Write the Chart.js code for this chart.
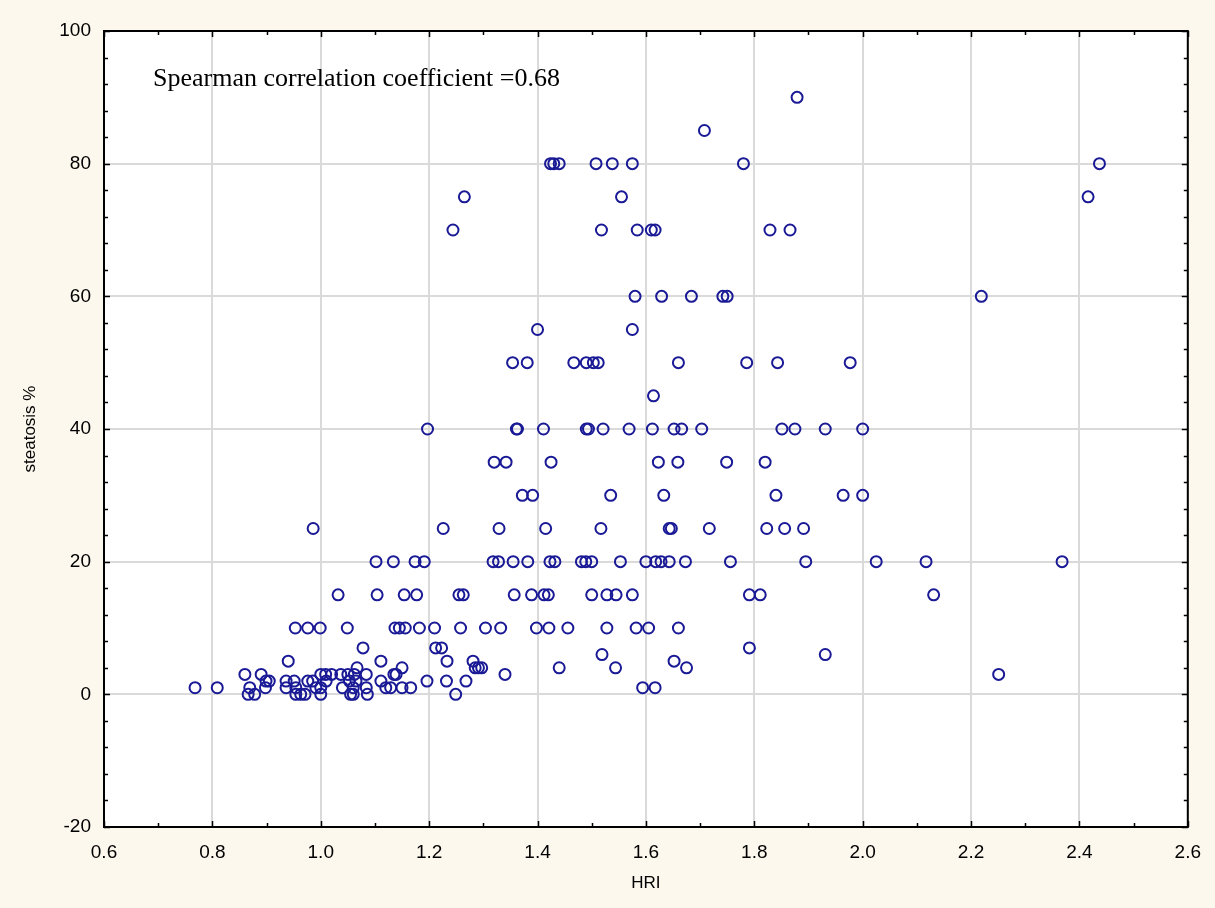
<!DOCTYPE html>
<html>
<head>
<meta charset="utf-8">
<title>HRI vs steatosis</title>
<script src="https://cdn.jsdelivr.net/npm/chart.js"></script>
<style>
  html, body { margin: 0; padding: 0; background: #fcf8ee; }
  #wrap { width: 1215px; height: 908px; position: relative; }
</style>
</head>
<body>
<div id="wrap"><canvas id="scatter"></canvas></div>
<script>
// steatosis % levels and the HRI values of the patients found at each level
const steatosisLevels = [0, 1, 2, 3, 4, 5, 6, 7, 10, 15, 20, 25, 30, 35, 40, 45, 50, 55, 60, 70, 75, 80, 85, 90];
const hriAtLevel = [
  [0.866, 0.878, 0.954, 0.963, 0.971, 1.0, 1.055, 1.06, 1.086, 1.249],
  [0.768, 0.809, 0.869, 0.898, 0.936, 0.954, 0.991, 1.0, 1.04, 1.06, 1.084, 1.12, 1.129, 1.15, 1.166, 1.594, 1.617],
  [0.899, 0.905, 0.936, 0.951, 0.976, 0.985, 1.01, 1.053, 1.065, 1.111, 1.196, 1.232, 1.268],
  [0.86, 0.89, 1.0, 1.009, 1.02, 1.037, 1.05, 1.062, 1.084, 1.135, 1.139, 1.34, 2.251],
  [1.067, 1.15, 1.285, 1.291, 1.297, 1.44, 1.544, 1.675],
  [0.94, 1.111, 1.233, 1.281, 1.652],
  [1.519, 1.931],
  [1.078, 1.212, 1.223, 1.791],
  [0.953, 0.976, 0.999, 1.049, 1.137, 1.145, 1.156, 1.182, 1.21, 1.258, 1.304, 1.332, 1.398, 1.421, 1.456, 1.528, 1.582, 1.605, 1.66],
  [1.032, 1.104, 1.154, 1.177, 1.255, 1.263, 1.357, 1.389, 1.412, 1.42, 1.5, 1.528, 1.545, 1.575, 1.791, 1.811, 2.131],
  [1.102, 1.134, 1.174, 1.191, 1.318, 1.328, 1.355, 1.382, 1.423, 1.432, 1.481, 1.489, 1.5, 1.553, 1.6, 1.618, 1.628, 1.643, 1.673, 1.756, 1.895, 2.025, 2.117, 2.368],
  [0.986, 1.226, 1.329, 1.415, 1.517, 1.643, 1.647, 1.717, 1.823, 1.856, 1.891],
  [1.372, 1.391, 1.535, 1.633, 1.84, 1.964, 2.0],
  [1.32, 1.342, 1.425, 1.623, 1.659, 1.749, 1.82],
  [1.197, 1.361, 1.363, 1.411, 1.49, 1.494, 1.521, 1.569, 1.612, 1.652, 1.666, 1.703, 1.851, 1.875, 1.931, 2.0],
  [1.614],
  [1.354, 1.381, 1.467, 1.49, 1.503, 1.512, 1.66, 1.786, 1.843, 1.977],
  [1.4, 1.575],
  [1.58, 1.629, 1.684, 1.742, 1.75, 2.219],
  [1.244, 1.518, 1.584, 1.61, 1.617, 1.829, 1.866],
  [1.265, 1.555, 2.416],
  [1.424, 1.43, 1.44, 1.508, 1.538, 1.575, 1.78, 2.437],
  [1.708],
  [1.879]
];

const xTicks = [0.6, 0.8, 1.0, 1.2, 1.4, 1.6, 1.8, 2.0, 2.2, 2.4, 2.6];
const yTicks = [-20, 0, 20, 40, 60, 80, 100];
const xMinorStep = 0.1;
const yMinorStep = 4;
const noteText = "Spearman correlation coefficient =0.68";

const points = steatosisLevels.flatMap((s, i) => hriAtLevel[i].map(h => ({ x: h, y: s })));

// cream page, white plot, black frame, inward ticks and the note
const frame = {
  id: "frame",
  beforeDraw(chart) {
    const { ctx, chartArea: a } = chart;
    ctx.save();
    ctx.fillStyle = "#fcf8ee";
    ctx.fillRect(0, 0, chart.width, chart.height);
    ctx.fillStyle = "#ffffff";
    ctx.fillRect(a.left, a.top, a.right - a.left, a.bottom - a.top);
    ctx.restore();
  },
  afterDatasetsDraw(chart) {
    const { ctx, chartArea: a, scales } = chart;
    const sx = scales.x, sy = scales.y;
    ctx.save();
    ctx.strokeStyle = "#000";
    ctx.lineWidth = 1.5;
    ctx.beginPath();
    for (let v = xTicks[0]; v <= xTicks[xTicks.length - 1] + 1e-9; v += xMinorStep) {
      const px = Math.round(sx.getPixelForValue(v)) + 0.5;
      const major = Math.abs(v * 5 - Math.round(v * 5)) < 1e-6;
      const len = major ? 6 : 4;
      ctx.moveTo(px, a.bottom); ctx.lineTo(px, a.bottom - len);
      ctx.moveTo(px, a.top); ctx.lineTo(px, a.top + len);
    }
    for (let v = yTicks[0]; v <= yTicks[yTicks.length - 1]; v += yMinorStep) {
      const py = Math.round(sy.getPixelForValue(v)) + 0.5;
      const len = v % 20 === 0 ? 6 : 4;
      ctx.moveTo(a.left, py); ctx.lineTo(a.left + len, py);
      ctx.moveTo(a.right, py); ctx.lineTo(a.right - len, py);
    }
    ctx.stroke();
    ctx.lineWidth = 2;
    ctx.strokeRect(a.left, a.top, a.right - a.left, a.bottom - a.top);
    ctx.fillStyle = "#000";
    ctx.font = '26px "Liberation Serif", "Times New Roman", serif';
    ctx.textBaseline = "alphabetic";
    ctx.fillText(noteText, a.left + 49, a.top + 55);
    ctx.restore();
  }
};

new Chart(document.getElementById("scatter"), {
  type: "scatter",
  data: {
    datasets: [{
      label: "steatosis %",
      data: points,
      pointStyle: "circle",
      pointRadius: 5.5,
      pointHoverRadius: 5.5,
      backgroundColor: "rgba(0,0,0,0)",
      borderColor: "#1a1a96",
      borderWidth: 2
    }]
  },
  options: {
    responsive: true,
    maintainAspectRatio: false,
    animation: false,
    events: [],
    layout: { autoPadding: false, padding: { left: 0, top: 31, right: 25, bottom: 0 } },
    plugins: { legend: { display: false }, tooltip: { enabled: false } },
    scales: {
      x: {
        type: "linear",
        min: 0.6,
        max: 2.6,
        afterFit(scale) { scale.height = 81; },
        afterBuildTicks(scale) { scale.ticks = xTicks.map(v => ({ value: v })); },
        grid: { color: "#dadada", lineWidth: 2, drawTicks: false },
        border: { display: false },
        ticks: {
          padding: 14,
          color: "#000",
          font: { family: '"Liberation Sans", Arial, sans-serif', size: 19 },
          callback: v => v.toFixed(1)
        },
        title: {
          display: true,
          text: "HRI",
          color: "#000",
          font: { family: '"Liberation Sans", Arial, sans-serif', size: 17 },
          padding: { top: 0, bottom: 14 }
        }
      },
      y: {
        type: "linear",
        min: -20,
        max: 100,
        afterFit(scale) { scale.width = 104; },
        afterBuildTicks(scale) { scale.ticks = yTicks.map(v => ({ value: v })); },
        grid: { color: "#dadada", lineWidth: 2, drawTicks: false },
        border: { display: false },
        ticks: {
          padding: 13,
          color: "#000",
          font: { family: '"Liberation Sans", Arial, sans-serif', size: 19 }
        },
        title: {
          display: true,
          text: "steatosis %",
          color: "#000",
          font: { family: '"Liberation Sans", Arial, sans-serif', size: 17 },
          padding: { top: 20, bottom: 0 }
        }
      }
    }
  },
  plugins: [frame]
});
</script>
</body>
</html>
